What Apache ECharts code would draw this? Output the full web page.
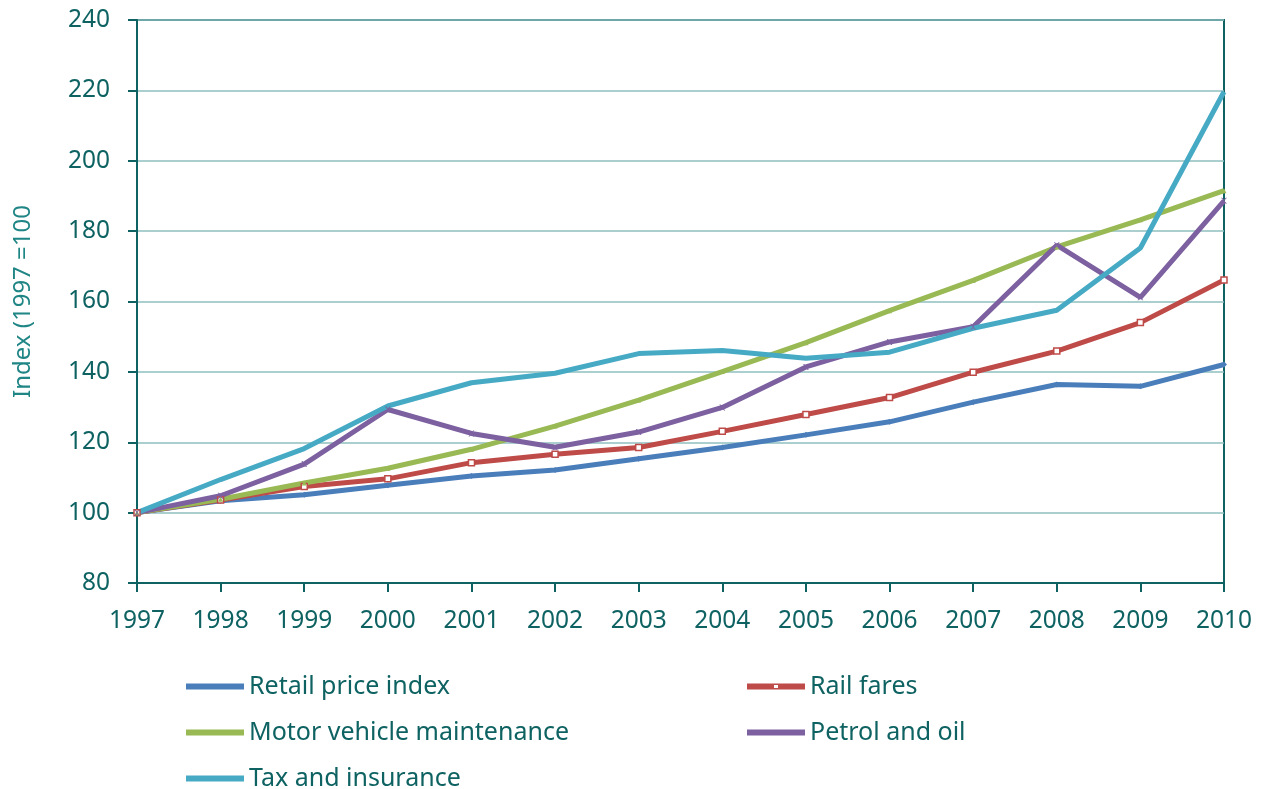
<!DOCTYPE html>
<html>
<head>
<meta charset="utf-8">
<script src="https://cdn.jsdelivr.net/npm/echarts@6/dist/echarts.min.js"></script>
<style>
  html, body { margin: 0; padding: 0; background: #ffffff; }
  #chart { width: 1263px; height: 789px; }
</style>
</head>
<body>
<div id="chart"></div>
<script>
// Transport cost indices, 1997 = 100
const years = ['1997','1998','1999','2000','2001','2002','2003','2004','2005','2006','2007','2008','2009','2010'];
const retailPriceIndex = [100, 103.4, 105.1, 107.8, 110.4, 112.1, 115.3, 118.5, 122.1, 125.8, 131.4, 136.4, 135.9, 142.1];
const railFares        = [100, 103.6, 107.4, 109.6, 114.2, 116.6, 118.5, 123.1, 127.9, 132.7, 139.9, 145.9, 154.0, 166.1];
const motorMaintenance = [100, 103.8, 108.4, 112.6, 118.0, 124.6, 132.0, 140.1, 148.3, 157.4, 166.0, 175.5, 183.2, 191.5];
const petrolAndOil     = [100, 104.8, 113.8, 129.3, 122.5, 118.6, 122.9, 129.9, 141.4, 148.5, 152.8, 176.0, 161.2, 188.6];
const taxAndInsurance  = [100, 109.4, 118.2, 130.3, 136.9, 139.6, 145.2, 146.1, 143.9, 145.6, 152.4, 157.5, 175.2, 219.6];
const yTicks = { min: 80, max: 240, step: 20 };

const teal = '#0e6262';
const font = 'Noto Sans';
const xMark = 'path://M0,0 L2,0 L5,3 L8,0 L10,0 L6,4 L6,6 L10,10 L8,10 L5,7 L2,10 L0,10 L4,6 L4,4 Z';
// legend keys: a thick bar; the rail key carries a small open square in the middle
const barIcon = 'path://M0,0 L58,0 L58,6 L0,6 Z';
const barIconOpenSquare = 'path://M0,0 L58,0 L58,6 L0,6 Z M27,1.5 L27,4.5 L31,4.5 L31,1.5 Z';

function line(name, data, color, symbol, size, extra) {
  return Object.assign({
    name: name,
    type: 'line',
    data: data,
    smooth: false,
    symbol: symbol,
    symbolSize: size,
    showSymbol: symbol !== 'none',
    lineStyle: { color: color, width: 5 },
    itemStyle: { color: color },
    emphasis: { disabled: true },
    animation: false
  }, extra || {});
}

function legendAt(name, icon, color, left, top) {
  return {
    data: [{ name: name, icon: icon, itemStyle: { color: color, borderWidth: 0 } }],
    left: left,
    top: top,
    padding: 0,
    itemWidth: 58,
    itemHeight: 6,
    itemGap: 0,
    textStyle: { fontFamily: font, fontSize: 25, color: teal },
    selectedMode: false
  };
}

const chart = echarts.init(document.getElementById('chart'), null, { renderer: 'canvas' });
chart.setOption({
  backgroundColor: '#ffffff',
  grid: {
    left: 137, right: 39, top: 20, bottom: 206,
    show: true, borderColor: teal, borderWidth: 2, backgroundColor: 'transparent'
  },
  xAxis: {
    type: 'category',
    data: years,
    boundaryGap: false,
    axisLine: { lineStyle: { color: teal, width: 2 } },
    axisTick: { show: true, length: 9, alignWithLabel: true, lineStyle: { color: teal, width: 2 } },
    axisLabel: { color: teal, fontFamily: font, fontSize: 24.5, margin: 26 },
    splitLine: { show: false }
  },
  yAxis: {
    type: 'value',
    min: yTicks.min,
    max: yTicks.max,
    interval: yTicks.step,
    name: 'Index (1997 =100',
    nameLocation: 'middle',
    nameRotate: 90,
    nameGap: 102,
    nameTextStyle: { color: '#1f8585', fontFamily: font, fontSize: 24 },
    axisLine: { show: true, lineStyle: { color: teal, width: 2 } },
    axisTick: { show: true, length: 9, lineStyle: { color: teal, width: 2 } },
    axisLabel: { color: teal, fontFamily: font, fontSize: 24.5, margin: 27 },
    splitLine: { show: true, lineStyle: { color: '#8fbfbf', width: 1.5 } }
  },
  legend: [
    legendAt('Retail price index', barIcon, '#4a7ebb', 186, 674),
    legendAt('Rail fares', barIconOpenSquare, '#be4b48', 747, 674),
    legendAt('Motor vehicle maintenance', barIcon, '#98b954', 186, 720),
    legendAt('Petrol and oil', barIcon, '#7d60a0', 747, 720),
    legendAt('Tax and insurance', barIcon, '#46aac5', 186, 766)
  ],
  series: [
    line('Retail price index', retailPriceIndex, '#4a7ebb', 'diamond', 6),
    line('Rail fares', railFares, '#be4b48', 'rect', 6, {
      itemStyle: { color: '#ffffff', borderColor: '#be4b48', borderWidth: 1.5 }
    }),
    line('Motor vehicle maintenance', motorMaintenance, '#98b954', 'triangle', 5),
    line('Petrol and oil', petrolAndOil, '#7d60a0', xMark, 6),
    line('Tax and insurance', taxAndInsurance, '#46aac5', 'none', 0)
  ]
});
</script>
</body>
</html>
